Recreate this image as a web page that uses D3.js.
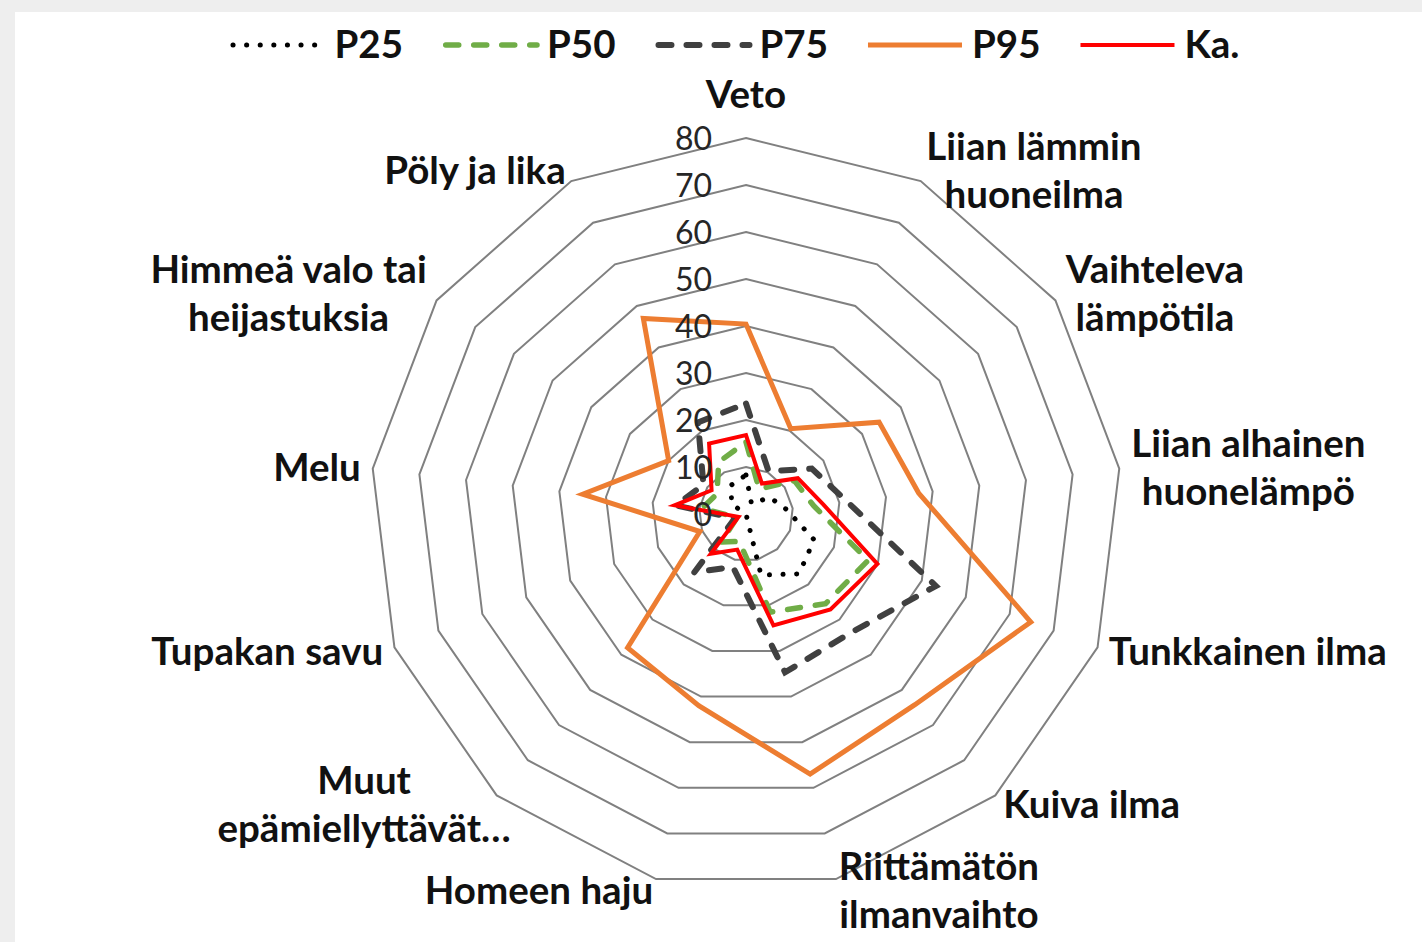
<!DOCTYPE html>
<html>
<head>
<meta charset="utf-8">
<script src="https://cdn.jsdelivr.net/npm/d3@7"></script>
<style>
  body { margin: 0; background: #fff; }
  svg { display: block; }
  .cat-label { font-family: Lato, "Open Sans", sans-serif; font-weight: 700; fill: #111; }
  .tick-label { font-family: Lato, "Open Sans", sans-serif; fill: #262626; }
  .legend-label { font-family: Lato, "Open Sans", sans-serif; font-weight: 700; fill: #111; }
</style>
</head>
<body>
<svg id="chart" width="1422" height="942"></svg>
<script>
// Tutkakaavio: olosuhdehaitat, persentiilit ja keskiarvo.

const categories = [
  'Veto',
  'Liian lämmin huoneilma',
  'Vaihteleva lämpötila',
  'Liian alhainen huonelämpö',
  'Tunkkainen ilma',
  'Kuiva ilma',
  'Riittämätön ilmanvaihto',
  'Homeen haju',
  'Muut epämiellyttävät…',
  'Tupakan savu',
  'Melu',
  'Himmeä valo tai heijastuksia',
  'Pöly ja lika',
];

// rivitys kuten alkuperäisessä
const categoryLines = [
  ['Veto'],
  ['Liian lämmin', 'huoneilma'],
  ['Vaihteleva', 'lämpötila'],
  ['Liian alhainen', 'huonelämpö'],
  ['Tunkkainen ilma'],
  ['Kuiva ilma'],
  ['Riittämätön', 'ilmanvaihto'],
  ['Homeen haju'],
  ['Muut', 'epämiellyttävät…'],
  ['Tupakan savu'],
  ['Melu'],
  ['Himmeä valo tai', 'heijastuksia'],
  ['Pöly ja lika'],
];

const tickValues = [0, 10, 20, 30, 40, 50, 60, 70, 80];
const seriesNames = ['P25', 'P50', 'P75', 'P95', 'Ka.'];

const p25 = [8.3, 2.5, 6.2, 8.6, 15.5, 17, 13.4, 0, 0, 0, 0, 3.7, 6.9];
const p50 = [15.3, 6, 12.5, 14.5, 27.8, 25.5, 21.5, 6, 8, 2, 9.5, 7.5, 12.5];
const p75 = [23.5, 10.3, 17, 21.7, 43.2, 33.7, 34.7, 11.6, 16.6, 2.5, 15, 11, 22];
const p95 = [40.4, 20.5, 34.4, 37, 64.8, 54.2, 57, 42, 38, 10.5, 35, 20, 47];
const ka = [16.8, 7.3, 13.4, 16.6, 29.9, 27.1, 24.4, 7.8, 11.3, 1.7, 15.3, 8.9, 16.9];

const seriesValues = [p25, p50, p75, p95, ka];

const SERIES_STYLE = {
  P25: { color: '#000000', width: 5, dash: '0.1 13.5', cap: 'round' },
  P50: { color: '#70AD47', width: 5.5, dash: '13 15', cap: 'round' },
  P75: { color: '#404040', width: 6, dash: '13 15', cap: 'round' },
  P95: { color: '#ED7D31', width: 5, dash: null, cap: 'butt' },
  'Ka.': { color: '#FF0000', width: 4, dash: null, cap: 'butt' },
};

const W = 1422;
const H = 942;
const cx = 746;
const cy = 514;
const outerR = 376;
const catFont = 38.5;
const lineH = 48;

const svg = d3.select('#chart');

// kehys
svg.append('rect').attr('width', W).attr('height', H).attr('fill', '#eeeeee');
svg.append('rect').attr('x', 15).attr('y', 12).attr('width', W - 15).attr('height', H - 12).attr('fill', '#ffffff');

const rScale = d3.scaleLinear().domain([0, 80]).range([0, outerR]);
const angle = d3.scaleLinear().domain([0, categories.length]).range([0, 2 * Math.PI]);

const g = svg.append('g').attr('transform', `translate(${cx},${cy})`);

const radial = d3.lineRadial()
  .angle((d, i) => angle(i))
  .radius((d) => rScale(d))
  .curve(d3.curveLinearClosed);

// verkko
g.append('g')
  .attr('class', 'grid')
  .selectAll('path')
  .data(tickValues.filter((t) => t > 0))
  .join('path')
  .attr('d', (t) => radial(categories.map(() => t)))
  .attr('fill', 'none')
  .attr('stroke', '#808080')
  .attr('stroke-width', 2);

// sarjat
g.append('g')
  .attr('class', 'series')
  .selectAll('path')
  .data(seriesNames.map((name, k) => ({ name, values: seriesValues[k] })))
  .join('path')
  .attr('d', (s) => radial(s.values))
  .attr('fill', 'none')
  .attr('stroke', (s) => SERIES_STYLE[s.name].color)
  .attr('stroke-width', (s) => SERIES_STYLE[s.name].width)
  .attr('stroke-dasharray', (s) => SERIES_STYLE[s.name].dash)
  .attr('stroke-linecap', (s) => SERIES_STYLE[s.name].cap)
  .attr('stroke-linejoin', 'miter');

// akselin arvot
g.append('g')
  .selectAll('text')
  .data(tickValues)
  .join('text')
  .attr('class', 'tick-label')
  .attr('x', -34)
  .attr('y', (t) => -rScale(t))
  .attr('dy', '0.36em')
  .attr('text-anchor', 'end')
  .style('font-size', '32px')
  .text((t) => t);

// luokkien nimet
const labelR = outerR + 12;
const LABEL_NUDGE = { 8: 22 };
g.append('g')
  .selectAll('g')
  .data(categoryLines)
  .join('g')
  .each(function (lines, i) {
    const a = angle(i);
    const s = Math.sin(a);
    const px = Math.sin(a) * labelR;
    const py = -Math.cos(a) * labelR;
    const node = d3.select(this);
    const text = node.append('text')
      .attr('class', 'cat-label')
      .attr('text-anchor', 'middle')
      .style('font-size', `${catFont}px`);
    lines.forEach((line, k) => {
      text.append('tspan').attr('x', 0).attr('y', k * lineH).attr('dy', '0.35em').text(line);
    });
    const bb = text.node().getBBox();
    let x = px;
    let y = py - ((lines.length - 1) * lineH) / 2;
    if (Math.abs(s) < 0.05) {
      y = py - bb.height / 2 - 8;
    } else if (s > 0) {
      x = px + bb.width / 2;
    } else {
      x = px - bb.width / 2;
    }
    x += LABEL_NUDGE[i] || 0;
    node.attr('transform', `translate(${x},${y})`);
  });

// selite
const legend = svg.append('g').attr('class', 'legend');
const sampleLen = 94;
const textGap = 10;
const itemGap = 40;
let lx = 0;
seriesNames.forEach((name) => {
  const item = legend.append('g');
  const st = SERIES_STYLE[name];
  item.append('line')
    .attr('x1', st.cap === 'round' ? st.width / 2 : 0)
    .attr('x2', sampleLen)
    .attr('y1', 0)
    .attr('y2', 0)
    .attr('stroke', st.color)
    .attr('stroke-width', st.width)
    .attr('stroke-dasharray', st.dash)
    .attr('stroke-linecap', st.cap);
  const t = item.append('text')
    .attr('class', 'legend-label')
    .attr('x', sampleLen + textGap)
    .attr('dy', '0.35em')
    .style('font-size', `${catFont}px`)
    .text(name);
  const w = sampleLen + textGap + t.node().getComputedTextLength();
  item.attr('transform', `translate(${lx},0)`);
  lx += w + itemGap;
});
const legendW = lx - itemGap;
legend.attr('transform', `translate(${735 - legendW / 2},45)`);
</script>
</body>
</html>
